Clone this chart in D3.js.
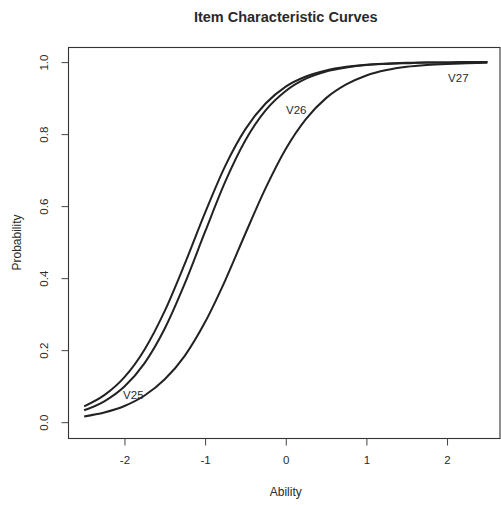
<!DOCTYPE html>
<html>
<head>
<meta charset="utf-8">
<script src="https://cdn.jsdelivr.net/npm/d3@7"></script>
<style>
  html, body { margin: 0; padding: 0; background: #fff; }
  svg { display: block; }
  text { font-family: "Liberation Sans", Arial, Helvetica, sans-serif; fill: #2a2a2a; }
</style>
</head>
<body>
<svg id="chart" width="501" height="505"></svg>
<script>
// ---- data ----
const ability = [-2.5, -2.25, -2.0, -1.75, -1.5, -1.25, -1.0, -0.75, -0.5, -0.25, 0,
                 0.25, 0.5, 0.75, 1.0, 1.25, 1.5, 1.75, 2.0, 2.25, 2.5];
const curveA = [0.044, 0.075, 0.125, 0.202, 0.309, 0.441, 0.582, 0.712, 0.814, 0.885, 0.932,
                0.960, 0.977, 0.987, 0.993, 0.996, 0.998, 0.999, 0.999, 1.000, 1.000];
const curveB = [0.033, 0.058, 0.099, 0.164, 0.260, 0.386, 0.529, 0.668, 0.783, 0.866, 0.920,
                0.954, 0.974, 0.985, 0.992, 0.995, 0.997, 0.999, 0.999, 1.000, 1.000];
const curveC = [0.016, 0.027, 0.045, 0.074, 0.119, 0.185, 0.278, 0.394, 0.524, 0.650, 0.759,
                0.842, 0.900, 0.938, 0.963, 0.978, 0.987, 0.992, 0.995, 0.997, 0.998];
const itemLabels = ["V25", "V26", "V27"];
const labelAbility = [-1.89, 0.13, 2.14];
const labelProb = [0.075, 0.867, 0.956];
const xTicks = [-2, -1, 0, 1, 2];
const yTicks = [0.0, 0.2, 0.4, 0.6, 0.8, 1.0];
const titleText = "Item Characteristic Curves";
const xTitle = "Ability";
const yTitle = "Probability";

// ---- layout ----
const svg = d3.select("#chart");
const box = { left: 68, top: 47, right: 499.5, bottom: 438 };
const x = d3.scaleLinear().domain([-2.7, 2.7]).range([68, 503.5]);
const y = d3.scaleLinear().domain([-0.044, 1.042]).range([438, 47]);
const ink = "#222";

// frame
svg.append("rect")
  .attr("x", box.left + 0.5).attr("y", box.top + 0.5)
  .attr("width", box.right - box.left).attr("height", box.bottom - box.top)
  .attr("fill", "none").attr("stroke", "#333").attr("stroke-width", 1.1);

// axes
const xAxis = d3.axisBottom(x).tickValues(xTicks).tickSize(7).tickPadding(10)
  .tickFormat(d => d3.format("d")(d).replace("−", "-"));
const gx = svg.append("g").attr("transform", `translate(0,${box.bottom + 0.5})`).call(xAxis);
gx.select(".domain").remove();
gx.selectAll(".tick line").attr("stroke", "#444");
gx.selectAll(".tick text").attr("font-size", "11.5px").attr("fill", "#2a2a2a")
  .attr("font-family", '"Liberation Sans", Arial, sans-serif');

const yAxis = d3.axisLeft(y).tickValues(yTicks).tickSize(7).tickFormat(d3.format(".1f"));
const gy = svg.append("g").attr("transform", `translate(${box.left + 0.5},0)`).call(yAxis);
gy.select(".domain").remove();
gy.selectAll(".tick line").attr("stroke", "#444");
gy.selectAll(".tick text")
  .attr("x", null).attr("dy", null)
  .attr("font-size", "11.5px").attr("fill", "#2a2a2a")
  .attr("font-family", '"Liberation Sans", Arial, sans-serif')
  .attr("text-anchor", "middle")
  .attr("dominant-baseline", "central")
  .attr("transform", "translate(-25,0) rotate(-90)");

// curves
const line = d3.line().x((d, i) => x(ability[i])).y(d => y(d)).curve(d3.curveMonotoneX);
[curveA, curveB, curveC].forEach(series => {
  svg.append("path").datum(series)
    .attr("d", line)
    .attr("fill", "none").attr("stroke", ink).attr("stroke-width", 2);
});

// item labels
svg.selectAll(".itemlab").data(itemLabels).enter().append("text")
  .attr("class", "itemlab")
  .attr("x", (d, i) => x(labelAbility[i]))
  .attr("y", (d, i) => y(labelProb[i]))
  .attr("text-anchor", "middle").attr("dominant-baseline", "central")
  .attr("font-size", "11.5px")
  .text(d => d);

// titles
const cx = (box.left + 503.5) / 2;
svg.append("text").attr("x", cx).attr("y", 17)
  .attr("text-anchor", "middle").attr("dominant-baseline", "central")
  .attr("font-size", "14.5px").attr("font-weight", "bold").attr("fill", "#1a1a1a")
  .text(titleText);
svg.append("text").attr("x", cx).attr("y", 492)
  .attr("text-anchor", "middle").attr("dominant-baseline", "central")
  .attr("font-size", "12px")
  .text(xTitle);
svg.append("text")
  .attr("transform", `translate(17,${(box.top + box.bottom) / 2}) rotate(-90)`)
  .attr("text-anchor", "middle").attr("dominant-baseline", "central")
  .attr("font-size", "12px")
  .text(yTitle);
</script>
</body>
</html>
